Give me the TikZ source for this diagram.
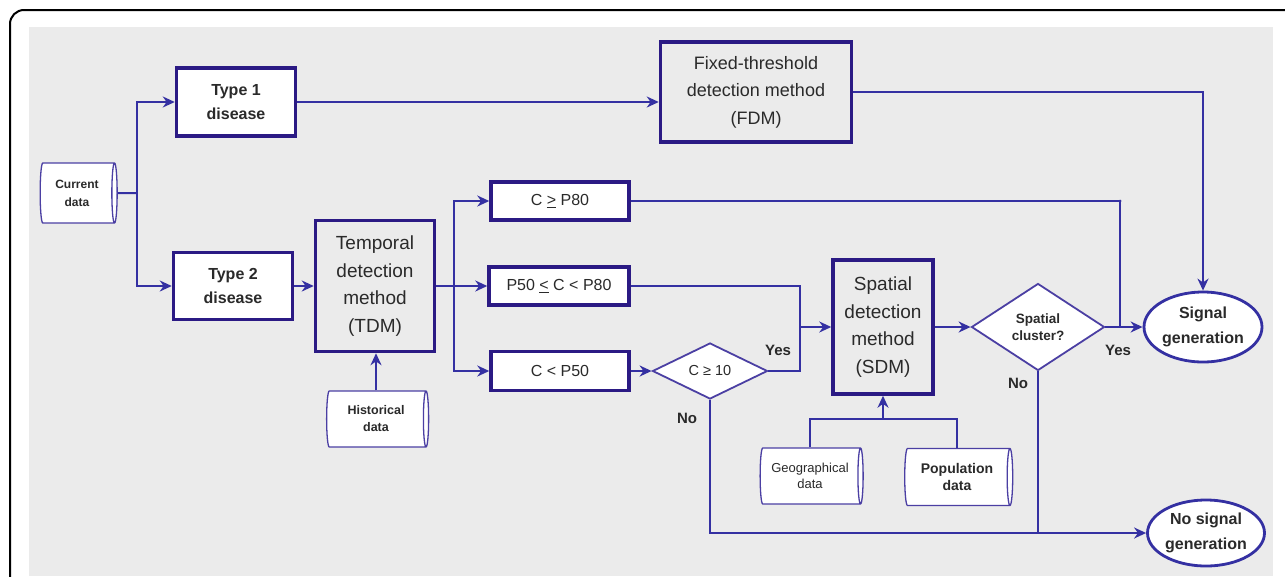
\documentclass[tikz,border=0pt]{standalone}
\usepackage{fontspec}
\setmainfont{Liberation Sans}
\usetikzlibrary{shapes.geometric,arrows.meta}
\definecolor{bordpurple}{HTML}{2B1A84}
\definecolor{linkblue}{HTML}{3430A2}
\definecolor{cylpurple}{HTML}{4B3FA3}
\definecolor{txtgrey}{HTML}{2A2A2A}
\definecolor{bggrey}{HTML}{EBEBEB}
\newcommand\fsz[2]{\fontsize{#1pt}{#2pt}\selectfont}
\begin{document}
\begin{tikzpicture}[x=1pt,y=-1pt,
  box/.style={draw=bordpurple,line width=3.5pt,fill=white,text=txtgrey,align=center,inner sep=0pt},
  method/.style={box,fill=none,font=\fsz{19}{27.5}},
  store/.style={cylinder,shape aspect=0.2,draw=cylpurple,line width=1.3pt,fill=white,
    text=txtgrey,align=center,inner sep=0pt},
  test/.style={diamond,draw=cylpurple,line width=1.8pt,fill=white,text=txtgrey,align=center,inner sep=0pt},
  term/.style={ellipse,draw=linkblue,line width=2.8pt,fill=white,text=txtgrey,align=center,
    inner sep=0pt,font=\bfseries\fsz{16}{25}},
  lnk/.style={draw=linkblue,line width=2pt},
  arr/.style={lnk,-{Stealth[length=12pt,width=11pt]}},
  lbl/.style={text=txtgrey,font=\bfseries\fsz{15}{18}}]
% surveillance signal flow, positions in pixels of the figure
\useasboundingbox (0,0) rectangle (1285,576);
\fill[white] (0,0) rectangle (1285,576);
\begin{scope}
\clip (0,0) rectangle (1285,576);
\draw[line width=2pt,rounded corners=14pt] (1300,10) -- (10,10) -- (10,590);
\end{scope}
\fill[bggrey] (29,27) rectangle (1273,576);
\def\flowdraw{\draw[lnk]}
\def\flowarrow{\draw[arr]}
\node[store,minimum height=77pt,minimum width=60pt,font=\bfseries\fsz{12}{18}] (cur) at (77,193) {Current\\data};
\node[box,minimum width=119pt,minimum height=68pt,font=\bfseries\fsz{16}{24}] (type1) at (236,102) {Type 1\\disease};
\node[box,minimum width=119pt,minimum height=67pt,font=\bfseries\fsz{16}{24}] (type2) at (233,286) {Type 2\\disease};
\node[method,minimum width=119pt,minimum height=131pt] (tdm) at (375,286) {Temporal\\detection\\method\\(TDM)};
\node[store,minimum height=102pt,minimum width=56pt,font=\bfseries\fsz{12.5}{17}] (hist) at (376,419) {Historical\\data};
\node[method,minimum width=191pt,minimum height=100pt,font=\fsz{18}{27.5}] (fdm) at (756,92) {Fixed-threshold\\detection method\\(FDM)};
\node[box,minimum width=138pt,minimum height=38pt,font=\fsz{16}{19}] (hi) at (560,201) {C \underline{>} P80};
\node[box,minimum width=140pt,minimum height=38pt,font=\fsz{16}{19}] (mid) at (559,286) {P50 \underline{<} C < P80};
\node[box,minimum width=138pt,minimum height=39pt,font=\fsz{16}{19}] (lo) at (560,371) {C < P50};
\node[test,minimum width=115pt,minimum height=56pt,font=\fsz{14.5}{17}] (cten) at (710,371) {C ≥ 10};
\node[method,minimum width=100pt,minimum height=134pt] (sdm) at (883,327) {Spatial\\detection\\method\\(SDM)};
\node[test,minimum width=133pt,minimum height=87pt,font=\bfseries\fsz{13.5}{17}] (clus) at (1038,327) {Spatial\\cluster?};
\node[term,minimum width=118pt,minimum height=70pt] (sig) at (1203,327) {Signal\\generation};
\node[term,minimum width=117pt,minimum height=66pt] (nosig) at (1206,533) {No signal\\generation};
\node[store,minimum height=103pt,minimum width=56pt,font=\fsz{13}{16.5}] (geo) at (810,476) {Geographical\\data};
\node[store,minimum height=108pt,minimum width=57pt,font=\bfseries\fsz{14}{17.5}] (pop) at (957,477) {Population\\data};
\coordinate (split) at (137,193);
\coordinate (fan) at (454,286);
\coordinate (join) at (800,327);
\coordinate (merge) at (1120,327);
\coordinate (feed) at (883,419);
\flowdraw (cur.east) -- (split);
\flowarrow (split) |- (type1.west);
\flowarrow (split) |- (type2.west);
\flowarrow (type1.east) -- (type1.east -| fdm.west);
\flowarrow (type2.east) -- (type2.east -| tdm.west);
\flowarrow (hist.north) -- (hist.north |- tdm.south);
\flowdraw (tdm.east) -- (fan);
\flowarrow (fan) |- (hi.west);
\flowarrow (fan) -- (mid.west);
\flowarrow (fan) |- (lo.west);
\flowarrow (lo.east) -- (cten.west);
\flowdraw (mid.east) -| (join) |- (cten.east);
\flowarrow (join) -- (join -| sdm.west);
\flowarrow (sdm.east) -- (clus.west);
\flowarrow (clus.east) -- (sig.west);
\flowdraw (hi.east) -| (merge);
\fill[linkblue] (hi.east -| merge) circle (1.5pt);
\flowarrow (fdm.east) -| (sig.north);
\flowarrow (cten.south) |- (nosig.west);
\flowdraw (clus.south) -- (clus.south |- nosig.west);
\flowdraw (geo.north) |- (feed) -| (pop.north);
\flowarrow (feed) -- (sdm.south);
\node[lbl] (yes1) at (778,350) {Yes};
\node[lbl] (no1) at (687,418) {No};
\node[lbl] (yes2) at (1118,350) {Yes};
\node[lbl] (no2) at (1018,383) {No};
\end{tikzpicture}
\end{document}
